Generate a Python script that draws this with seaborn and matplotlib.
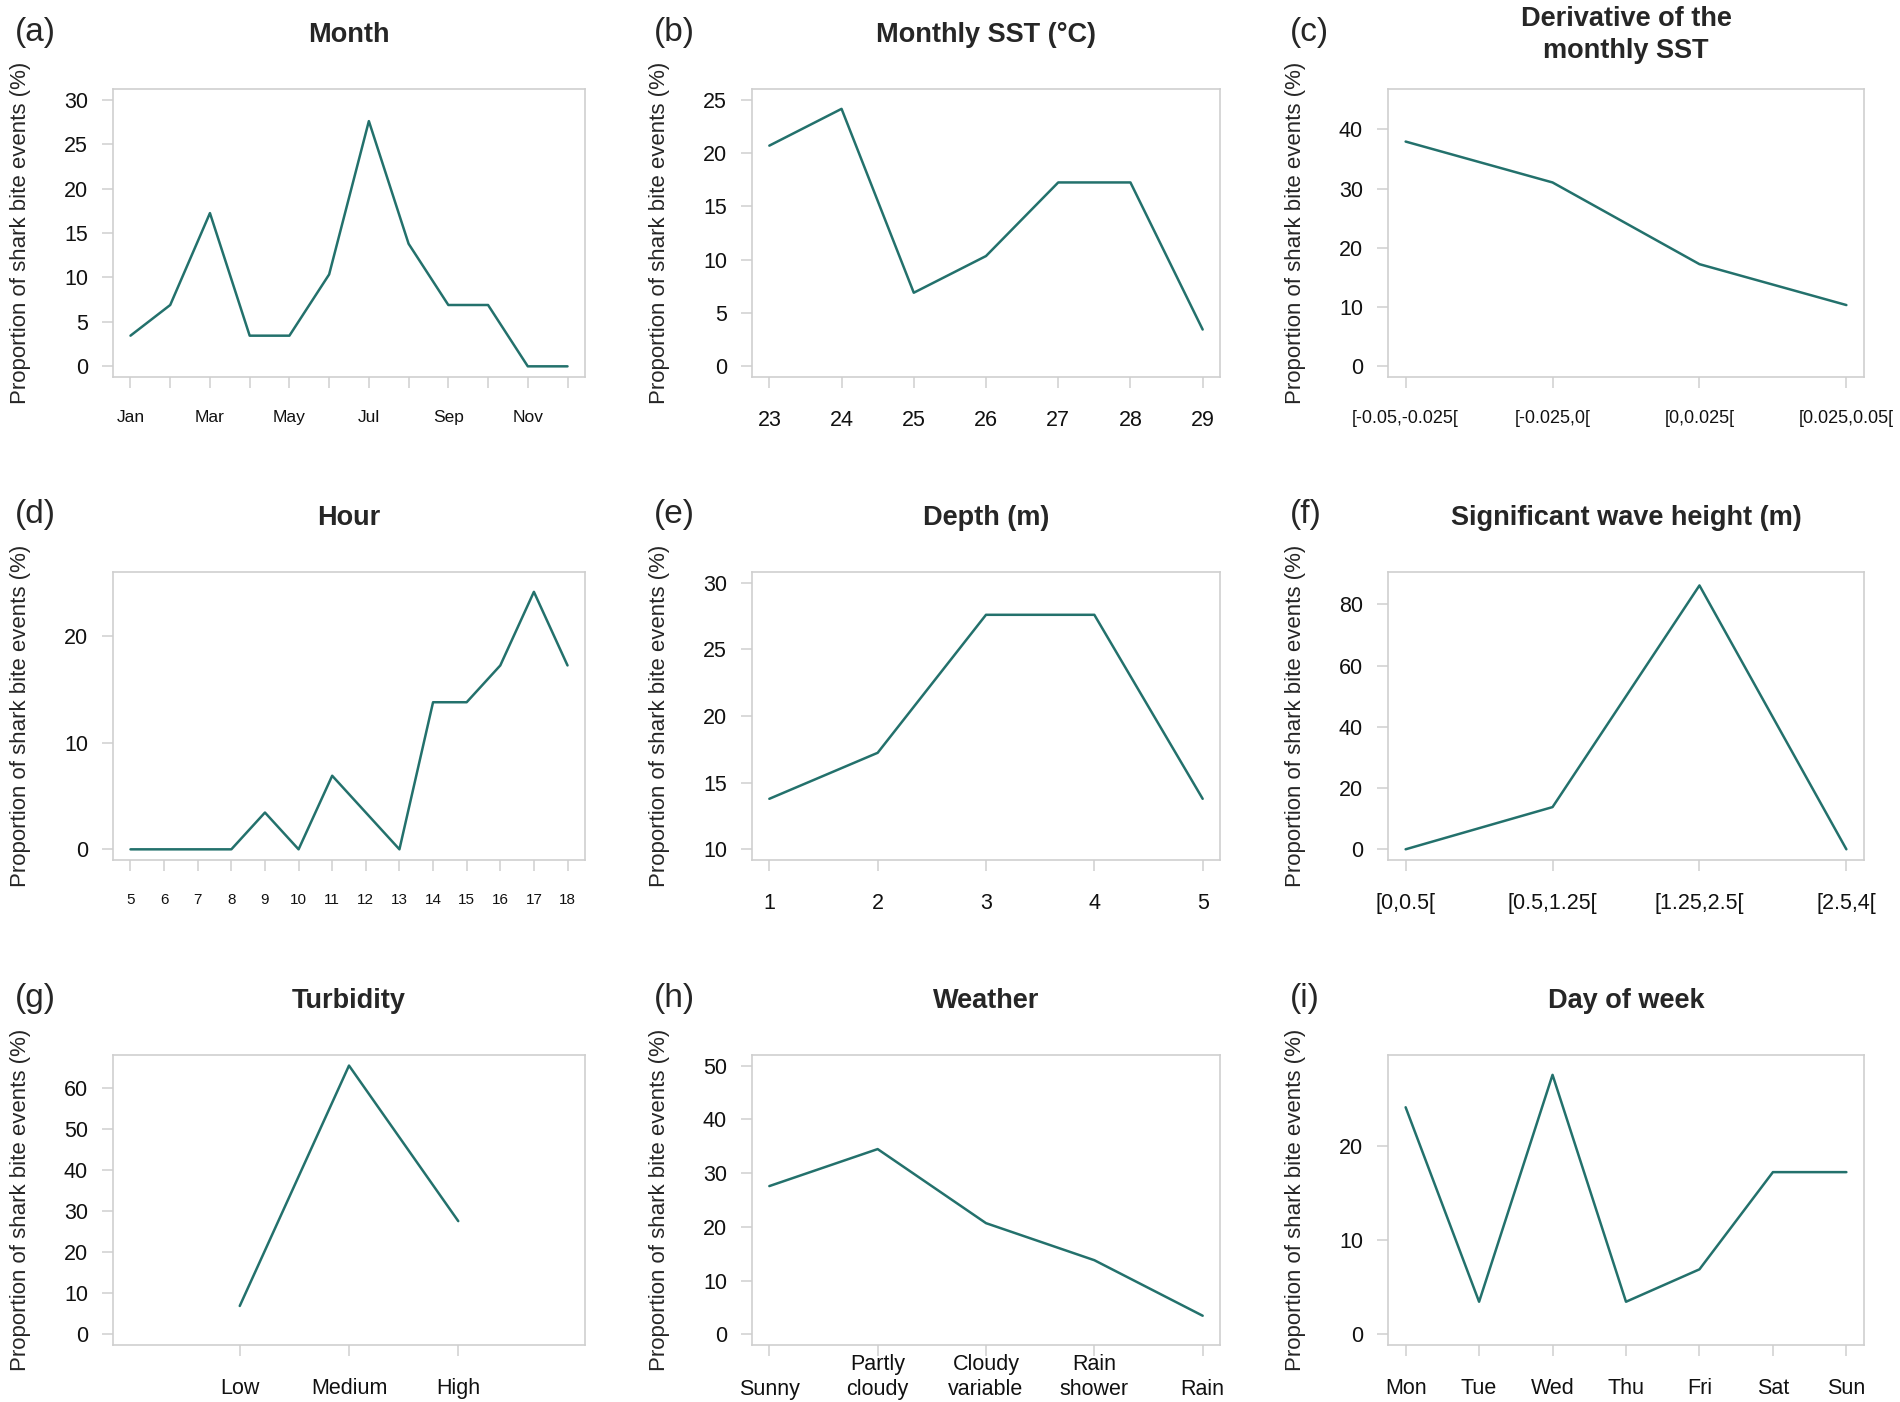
import numpy as np
import pandas as pd
import matplotlib
matplotlib.use("Agg")
import matplotlib.pyplot as plt
import seaborn as sns

# ---------------- data ----------------
month_labels = ["Jan", "Feb", "Mar", "Apr", "May", "Jun",
                "Jul", "Aug", "Sep", "Oct", "Nov", "Dec"]
month_values = [3.45, 6.90, 17.24, 3.45, 3.45, 10.34, 27.59, 13.79, 6.90, 6.90, 0.0, 0.0]

sst_labels = ["23", "24", "25", "26", "27", "28", "29"]
sst_values = [20.69, 24.14, 6.90, 10.34, 17.24, 17.24, 3.45]

deriv_labels = ["[-0.05,-0.025[", "[-0.025,0[", "[0,0.025[", "[0.025,0.05["]
deriv_values = [37.93, 31.03, 17.24, 10.34]

hour_labels = ["5", "6", "7", "8", "9", "10", "11", "12", "13", "14", "15", "16", "17", "18"]
hour_values = [0.0, 0.0, 0.0, 0.0, 3.45, 0.0, 6.90, 3.45, 0.0, 13.79, 13.79, 17.24, 24.14, 17.24]

depth_labels = ["1", "2", "3", "4", "5"]
depth_values = [13.79, 17.24, 27.59, 27.59, 13.79]

wave_labels = ["[0,0.5[", "[0.5,1.25[", "[1.25,2.5[", "[2.5,4["]
wave_values = [0.0, 13.79, 86.21, 0.0]

turb_labels = ["Low", "Medium", "High"]
turb_values = [6.90, 65.52, 27.59]

weather_labels = ["Sunny", "Partly\ncloudy", "Cloudy\nvariable", "Rain\nshower", "Rain"]
weather_values = [27.59, 34.48, 20.69, 13.79, 3.45]

day_labels = ["Mon", "Tue", "Wed", "Thu", "Fri", "Sat", "Sun"]
day_values = [24.14, 3.45, 27.59, 3.45, 6.90, 17.24, 17.24]

titles = ["Month", "Monthly SST (°C)", "Derivative of the\nmonthly SST",
          "Hour", "Depth (m)", "Significant wave height (m)",
          "Turbidity", "Weather", "Day of week"]
panel_tags = ["(a)", "(b)", "(c)", "(d)", "(e)", "(f)", "(g)", "(h)", "(i)"]
ylabel_text = "Proportion of shark bite events (%)"

# ---------------- style ----------------
sns.set_style("white")
plt.rcParams["font.family"] = ["Liberation Sans", "DejaVu Sans"]

LINE = "#23716c"
GREY = "#cfcfcf"
W, H = 1900, 1402
fig = plt.figure(figsize=(W / 100, H / 100), dpi=100)

col_left = [113, 752, 1388]
col_w = [472, 468, 476]
row_top = [89, 572, 1055]
row_h = [288, 288, 290]

month_shown = [m if i % 2 == 0 else "" for i, m in enumerate(month_labels)]

panels = [
    dict(labels=month_shown, values=month_values, ylim=(-1.2, 31.2), yticks=np.arange(0, 31, 5), fs=12.5, xpad=None),
    dict(labels=sst_labels, values=sst_values, ylim=(-1.0, 26.0), yticks=np.arange(0, 26, 5), fs=15.5, xpad=None),
    dict(labels=deriv_labels, values=deriv_values, ylim=(-1.8, 46.8), yticks=np.arange(0, 41, 10), fs=13, xpad=None),
    dict(labels=hour_labels, values=hour_values, ylim=(-1.0, 26.0), yticks=[0, 10, 20], fs=11, xpad=None),
    dict(labels=depth_labels, values=depth_values, ylim=(9.2, 30.8), yticks=np.arange(10, 31, 5), fs=15.5, xpad=None),
    dict(labels=wave_labels, values=wave_values, ylim=(-3.5, 90.6), yticks=np.arange(0, 81, 20), fs=15.5, xpad=None),
    dict(labels=turb_labels, values=turb_values, ylim=(-2.62, 68.1), yticks=np.arange(0, 61, 10), fs=15.5, xpad=(-0.16, 4.16)),
    dict(labels=weather_labels, values=weather_values, ylim=(-2.0, 52.0), yticks=np.arange(0, 51, 10), fs=15.5, xpad=None),
    dict(labels=day_labels, values=day_values, ylim=(-1.15, 29.7), yticks=[0, 10, 20], fs=15.5, xpad=None),
]

for k, p in enumerate(panels):
    r, c = divmod(k, 3)
    left, top, w, h = col_left[c], row_top[r], col_w[c], row_h[r]
    ax = fig.add_axes([left / W, 1 - (top + h) / H, w / W, h / H])
    n = len(p["values"])
    pos = np.arange(1, n + 1)
    df = pd.DataFrame({"pos": pos, "val": p["values"]})
    sns.lineplot(data=df, x="pos", y="val", ax=ax, color=LINE, linewidth=1.8)
    if p["xpad"] is None:
        ext = 0.04 * (n - 1)
        ax.set_xlim(1 - ext, n + ext)
    else:
        ax.set_xlim(*p["xpad"])
    ax.set_ylim(*p["ylim"])
    ax.set_xticks(pos)
    ax.set_xticklabels(p["labels"], fontsize=p["fs"])
    ax.set_yticks(p["yticks"])
    ax.set_yticklabels([str(int(v)) for v in p["yticks"]], fontsize=15.5)
    ax.set_xlabel("")
    ax.set_ylabel("")
    for s in ax.spines.values():
        s.set_color(GREY)
        s.set_linewidth(1.2)
    ax.tick_params(axis="both", direction="out", length=8, width=1.1,
                   color=GREY, labelcolor="#111111", bottom=True, left=True)
    ax.tick_params(axis="y", pad=10)
    ax.tick_params(axis="x", pad=16)
    ax.set_facecolor("white")
    if k == 7:
        # multi-line labels grow upward so that single-line labels share one line
        ax.tick_params(axis="x", pad=16 + 15.5)
        for lab in ax.get_xticklabels():
            lab.set_verticalalignment("bottom")
            lab.set_linespacing(1.25)

    # title
    fig.text((left + w / 2) / W, 1 - (top - 54) / H, titles[k], ha="center", va="center",
             fontsize=19.5, fontweight="bold", linespacing=1.3)
    # panel tag
    fig.text((left - 98) / W, 1 - (top - 57) / H, panel_tags[k], ha="left", va="center",
             fontsize=24)
    # y label
    fig.text((left - 92) / W, 1 - (top + h / 2) / H, ylabel_text, rotation=90,
             ha="center", va="center", fontsize=16)

fig.savefig("out.png", dpi=100, facecolor="white")
